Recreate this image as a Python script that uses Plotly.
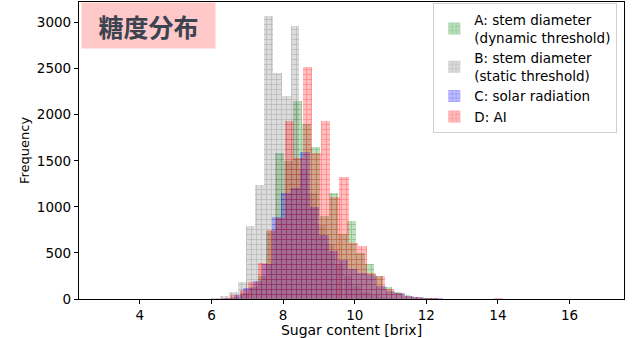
import plotly.graph_objects as go

# ---------------- data ----------------
# A: stem diameter (dynamic threshold)
a_centers = [6.41, 6.66, 6.91, 7.16, 7.41, 7.66, 7.91, 8.16, 8.41, 8.66, 8.91, 9.16, 9.41,
             9.66, 9.91, 10.16, 10.41, 10.66, 10.91, 11.16, 11.41, 11.66, 11.91, 12.16, 12.41, 12.66]
a_counts = [5, 20, 60, 130, 245, 743, 1581, 1500, 2151, 1900, 1646, 900, 1148,
            700, 851, 500, 382, 250, 125, 80, 45, 25, 12, 6, 3, 2]

# B: stem diameter (static threshold)
b_centers = [5.87, 6.12, 6.36, 6.61, 6.86, 7.10, 7.35, 7.59, 7.84, 8.09, 8.33, 8.58, 8.82,
             9.07, 9.32, 9.56, 9.81, 10.05, 10.30, 10.55, 10.79, 11.04, 11.28, 11.53]
b_counts = [3, 8, 28, 76, 184, 797, 1238, 3070, 2448, 2202, 2960, 1400, 1150,
            800, 600, 380, 250, 140, 80, 40, 20, 10, 5, 3]

# C: solar radiation
c_centers = [6.23, 6.49, 6.76, 7.02, 7.29, 7.55, 7.82, 8.08, 8.35, 8.61, 8.88, 9.14, 9.41,
             9.67, 9.94, 10.20, 10.47, 10.73, 11.00, 11.26, 11.53, 11.79, 12.06, 12.32, 12.59, 12.85]
c_counts = [5, 15, 40, 115, 191, 380, 895, 1150, 1210, 1599, 1000, 696, 520,
            420, 330, 280, 263, 140, 83, 62, 35, 20, 12, 8, 5, 3]

# D: AI
d_centers = [6.14, 6.40, 6.65, 6.91, 7.16, 7.42, 7.67, 7.92, 8.18, 8.43, 8.69, 8.94, 9.19,
             9.45, 9.70, 9.96, 10.21, 10.46, 10.72, 10.97, 11.23, 11.48, 11.73, 11.99, 12.24,
             12.50, 12.75, 13.00, 13.26, 14.02]
d_counts = [5, 10, 40, 100, 184, 390, 750, 880, 1934, 1527, 2519, 1580, 1934,
            1110, 1328, 610, 577, 285, 252, 108, 62, 35, 20, 12, 8,
            5, 4, 3, 2, 15]

series_names = ["A: stem diameter<br>(dynamic threshold)",
                "B: stem diameter<br>(static threshold)",
                "C: solar radiation",
                "D: AI"]
x_ticks = [4, 6, 8, 10, 12, 14, 16]
y_ticks = [0, 500, 1000, 1500, 2000, 2500, 3000]
title_text = "糖度分布"
x_title = "Sugar content [brix]"
y_title = "Frequency"

# ---------------- figure ----------------
styles = [
    (a_centers, a_counts, 0.25, "rgba(0,128,0,0.25)", "rgba(0,128,0,0.65)"),
    (b_centers, b_counts, 0.246, "rgba(128,128,128,0.28)", "rgba(80,80,80,0.55)"),
    (c_centers, c_counts, 0.265, "rgba(0,0,255,0.25)", "rgba(0,0,255,0.65)"),
    (d_centers, d_counts, 0.254, "rgba(255,0,0,0.25)", "rgba(255,0,0,0.65)"),
]

fig = go.Figure()
for name, (xs, ys, w, face, fg) in zip(series_names, styles):
    fig.add_trace(go.Bar(
        x=xs, y=ys, width=w, name=name,
        marker=dict(color=face, line=dict(width=0),
                    pattern=dict(shape="+", size=5, solidity=0.25,
                                 fgcolor=fg, fillmode="overlay")),
    ))

font_main = "DejaVu Sans"
fig.update_layout(
    width=636, height=338,
    margin=dict(l=79, r=12, t=2, b=39, autoexpand=False),
    barmode="overlay",
    bargap=0,
    plot_bgcolor="white",
    paper_bgcolor="white",
    font=dict(family=font_main, size=13, color="black"),
    showlegend=True,
    legend=dict(
        x=0.9877, y=0.995, xanchor="right", yanchor="top",
        bgcolor="white", bordercolor="#d0d0d0", borderwidth=1,
        font=dict(family=font_main, size=13.5, color="black"),
        itemwidth=30,
    ),
)
fig.update_xaxes(
    range=[2.30, 17.52], tickvals=x_ticks, ticktext=[str(v) for v in x_ticks],
    showgrid=False, zeroline=False, showline=True, linecolor="black", linewidth=1.2,
    mirror=True, ticks="outside", ticklen=4, tickcolor="black",
    tickfont=dict(size=13.5), automargin=False,
    title=dict(text=x_title, font=dict(size=14), standoff=0),
)
fig.update_yaxes(
    range=[0, 3223], tickvals=y_ticks, ticktext=[str(v) for v in y_ticks],
    showgrid=False, zeroline=False, showline=True, linecolor="black", linewidth=1.2,
    mirror=True, ticks="outside", ticklen=4, tickcolor="black",
    tickfont=dict(size=13.5), automargin=False,
    title=dict(text=y_title, font=dict(size=13), standoff=4),
)
fig.add_annotation(
    text="<b>" + title_text + "</b>",
    xref="paper", yref="paper", x=0.003, y=1.0, xanchor="left", yanchor="top",
    showarrow=False, width=133, height=45, borderpad=0, align="center", valign="middle",
    bgcolor="#ffc9c9",
    font=dict(family="Noto Sans CJK JP", size=25, color="#3c4350"),
)

fig.write_html("out.html",
               config={"displayModeBar": False},
               post_script="document.body.style.margin='0';document.body.style.overflow='hidden';")
